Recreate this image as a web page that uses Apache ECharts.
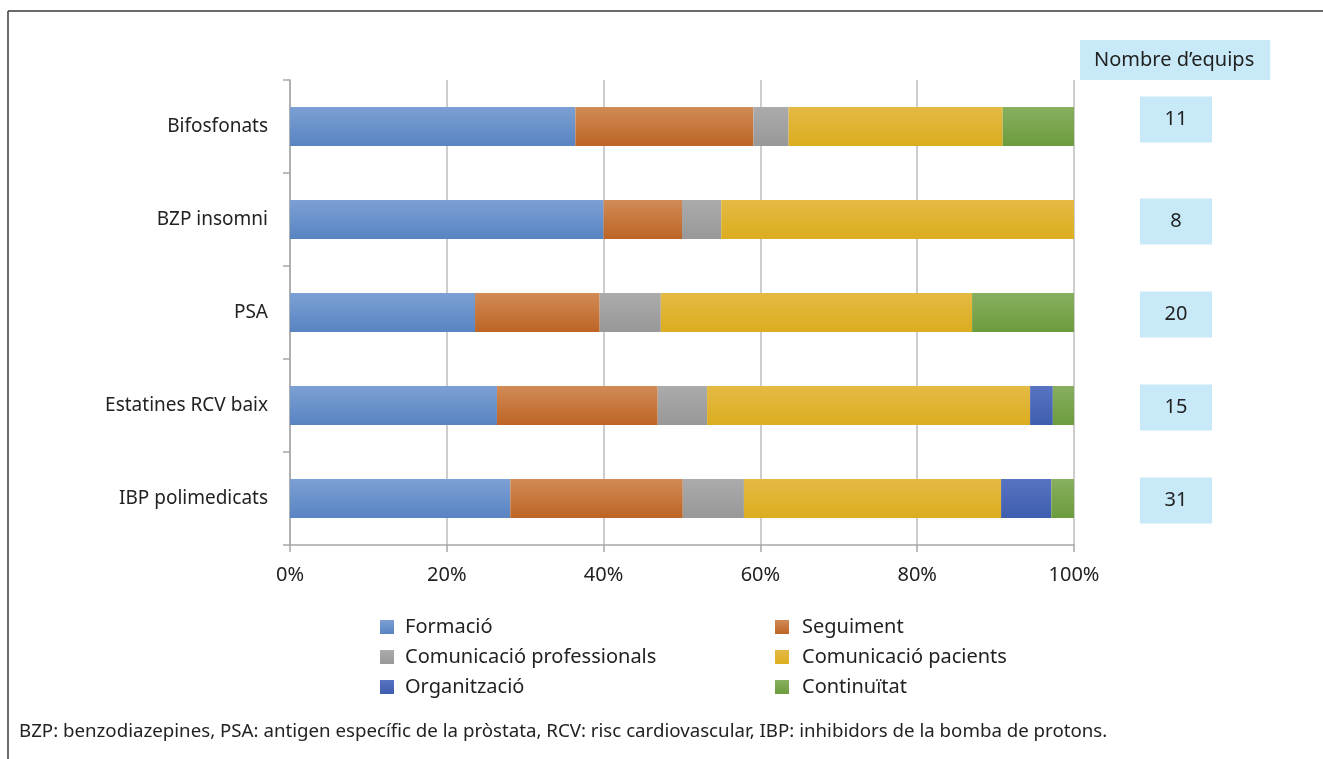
<!DOCTYPE html>
<html>
<head>
<meta charset="utf-8">
<script src="https://cdn.jsdelivr.net/npm/echarts@6/dist/echarts.min.js"></script>
<style>
html,body{margin:0;padding:0;background:#fff;}
#chart{width:1323px;height:759px;}
</style>
</head>
<body>
<div id="chart"></div>
<script>
const categories = ['Bifosfonats', 'BZP insomni', 'PSA', 'Estatines RCV baix', 'IBP polimedicats'];
const teams = [11, 8, 20, 15, 31];
const formacio = [36.4, 40, 23.6, 26.4, 28.1];
const seguiment = [22.7, 10, 15.9, 20.5, 22.0];
const comProfessionals = [4.5, 5, 7.8, 6.3, 7.8];
const comPacients = [27.3, 45, 39.7, 41.2, 32.8];
const organitzacio = [0, 0, 0, 2.9, 6.4];
const continuitat = [9.1, 0, 13.0, 2.7, 2.9];
const xTicks = ['0%', '20%', '40%', '60%', '80%', '100%'];
const seriesNames = ['Formació', 'Seguiment', 'Comunicació professionals', 'Comunicació pacients', 'Organització', 'Continuïtat'];
const footnote = 'BZP: benzodiazepines, PSA: antigen específic de la pròstata, RCV: risc cardiovascular, IBP: inhibidors de la bomba de protons.';
const headerText = 'Nombre d’equips';

const FONT = '"Noto Sans", sans-serif';
const chart = echarts.init(document.getElementById('chart'));

function grad(top, bottom) {
  return new echarts.graphic.LinearGradient(0, 0, 0, 1, [
    { offset: 0, color: top }, { offset: 1, color: bottom }
  ]);
}
const colors = [
  grad('#7ca0d4', '#5884c2'),
  grad('#d18b56', '#bd6425'),
  grad('#ababab', '#989898'),
  grad('#e4ba44', '#dcad1f'),
  grad('#5873c2', '#3f5dae'),
  grad('#88af5f', '#6c9c3d')
];
const dataSets = [formacio, seguiment, comProfessionals, comPacients, organitzacio, continuitat];

const barSeries = dataSets.map((d, i) => ({
  name: seriesNames[i],
  type: 'bar',
  stack: 'total',
  xAxisIndex: 0,
  yAxisIndex: 0,
  barWidth: 39,
  itemStyle: { color: colors[i] },
  data: d
}));

chart.setOption({
  animation: false,
  textStyle: { fontFamily: FONT },
  title: [
    {
      text: headerText,
      left: 1080, top: 40,
      padding: [8, 16, 8, 14],
      backgroundColor: '#c7e9f8',
      textStyle: { fontFamily: FONT, fontSize: 20, fontWeight: 'normal', color: '#222', lineHeight: 24 }
    },
    {
      text: footnote,
      left: 19, top: 722,
      padding: 0,
      textStyle: { fontFamily: FONT, fontSize: 18.7, fontWeight: 'normal', color: '#222' }
    }
  ],
  legend: [
    {
      orient: 'vertical', left: 375, top: 612, itemWidth: 14, itemHeight: 14, itemGap: 10,
      icon: 'rect', selectedMode: false,
      textStyle: { fontFamily: FONT, fontSize: 20, color: '#222', padding: [0, 0, 0, 6] },
      data: [seriesNames[0], seriesNames[2], seriesNames[4]]
    },
    {
      orient: 'vertical', left: 770, top: 612, itemWidth: 14, itemHeight: 14, itemGap: 10,
      icon: 'rect', selectedMode: false,
      textStyle: { fontFamily: FONT, fontSize: 20, color: '#222', padding: [0, 0, 0, 8] },
      data: [seriesNames[1], seriesNames[3], seriesNames[5]]
    }
  ],
  grid: [
    { left: 290, width: 784, top: 80, height: 465 },
    { left: 1140, width: 72, top: 80, height: 465 }
  ],
  xAxis: [
    {
      gridIndex: 0, type: 'value', min: 0, max: 100, interval: 20,
      axisLine: { show: true, lineStyle: { color: '#a6a6a6', width: 1.5 } },
      axisTick: { show: true, length: 7, lineStyle: { color: '#a6a6a6', width: 1.5 } },
      splitLine: { show: true, lineStyle: { color: '#bcbcbc', width: 1.5 } },
      axisLabel: { formatter: (v) => xTicks[v / 20], fontSize: 20, color: '#222', margin: 20, fontFamily: FONT }
    },
    { gridIndex: 1, type: 'value', min: 0, max: 1, show: false }
  ],
  yAxis: [
    {
      gridIndex: 0, type: 'category', data: categories, inverse: true,
      axisLine: { show: true, lineStyle: { color: '#a6a6a6', width: 1.5 } },
      axisTick: { show: true, length: 7, lineStyle: { color: '#a6a6a6', width: 1.5 } },
      axisLabel: { fontSize: 19, color: '#222', margin: 22, fontFamily: FONT, padding: [10, 0, 0, 0] }
    },
    { gridIndex: 1, type: 'category', data: categories, inverse: true, show: false }
  ],
  series: barSeries.concat([{
    name: 'equips',
    type: 'scatter',
    xAxisIndex: 1, yAxisIndex: 1,
    symbol: 'rect',
    symbolSize: [72, 46],
    itemStyle: { color: '#c7e9f8', opacity: 1 },
    label: {
      show: true, position: 'inside',
      formatter: (p) => String(teams[p.dataIndex]),
      fontFamily: FONT, fontSize: 20, color: '#222'
    },
    emphasis: { disabled: true },
    data: categories.map((c, i) => ({ value: [0.5, c], symbolOffset: [0, i === 0 ? -7 : 2] }))
  }]),
  graphic: [
    { type: 'line', shape: { x1: 8, y1: 11, x2: 1323, y2: 11 }, style: { stroke: '#3a3a3a', lineWidth: 1.5 } },
    { type: 'line', shape: { x1: 8, y1: 11, x2: 8, y2: 759 }, style: { stroke: '#3a3a3a', lineWidth: 1.5 } }
  ]
});
</script>
</body>
</html>
